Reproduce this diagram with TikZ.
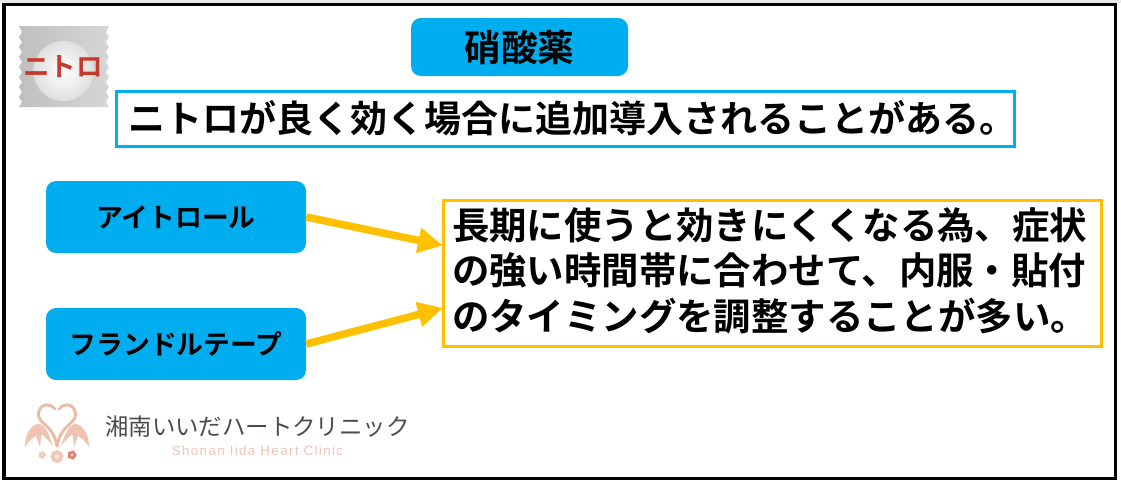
\documentclass[tikz,border=0pt]{standalone}
\usepackage{fontspec}
\usetikzlibrary{arrows.meta,calc}
\setmainfont{Noto Sans CJK JP}[BoldFont={Noto Sans CJK JP Bold}]
\newfontfamily\latinlogo{Liberation Sans}[LetterSpace=10]
\definecolor{cyanb}{HTML}{00AEEF}
\definecolor{amber}{HTML}{FFC000}
\definecolor{logored}{HTML}{C8392B}
\definecolor{swan}{HTML}{EDB9A6}
\tikzset{
 x=1pt,y=-1pt,
 pill/.style={fill=cyanb,rounded corners=10pt,inner sep=0pt,text=black,anchor=center},
 pillb/.style={pill,minimum width=260pt,minimum height=72pt,font=\bfseries\fontsize{26.8}{30}\selectfont},
 arrowy/.style={draw=amber,line width=7.5pt,-{Triangle[length=25pt,width=24pt]},shorten >=0pt},
 swanneck/.style={draw=swan,line width=2.8pt,fill=none,line cap=round},
 swanwing/.style={fill=swan!85},
 bodytext/.style={inner sep=0pt,align=left,font=\bfseries\fontsize{37.4}{45.5}\selectfont},
}
\begin{document}
\begin{tikzpicture}
\useasboundingbox (0,0) rectangle (1121,483);
\fill[white] (0,0) rectangle (1121,483);
\fill[gray!18] (0,0) rectangle (1121,3);
\draw[line width=3.5pt] (4,4.5) rectangle (1115.5,478.5);
% title
\node[pill,minimum width=217pt,minimum height=58pt,font=\bfseries\fontsize{36.7}{40}\selectfont] (title) at (519.5,47) {硝酸薬};
\draw[draw=cyanb,line width=3pt] (116,91.5) rectangle (1014,146.5);
\node[bodytext,font=\bfseries\fontsize{37}{40}\selectfont] (sub) at (572,118.5) {ニトロが良く効く場合に追加導入されることがある。};
% boxes
\node[pillb] (a) at (176,217) {アイトロール};
\node[pillb] (b) at (176,344) {フランドルテープ};
\draw[draw=amber,line width=3pt] (443.5,200) rectangle (1101.5,346);
\node[bodytext] (note) at (770,270.5) {長期に使うと効きにくくなる為、症状\\の強い時間帯に合わせて、内服・貼付\\のタイミングを調整することが多い。};
\coordinate (ea) at (443,245.5);
\coordinate (eb) at (443,308);
\draw[arrowy] (a.east) -- (ea);
\draw[arrowy] (b.east) -- (eb);
% nitro packet
\shade[left color=gray!50,right color=gray!32] (19,26) -- (109,26) -- (106,32) -- (109,37) -- (106,42) -- (109,47) -- (106,52) -- (109,57) -- (106,62) -- (109,67) -- (106,72) -- (109,77) -- (106,82) -- (109,87) -- (106,92) -- (109,97) -- (106,102) -- (109,107) -- (19,107) -- (22,102) -- (19,97) -- (22,92) -- (19,87) -- (22,82) -- (19,77) -- (22,72) -- (19,67) -- (22,62) -- (19,57) -- (22,52) -- (19,47) -- (22,42) -- (19,37) -- (22,32) -- cycle;
\shade[inner color=white,outer color=gray!25] (63.5,71) circle (30);
\node[inner sep=0pt,text=logored,font=\bfseries\fontsize{26.5}{30}\selectfont] (nitro) at (63,67) {ニトロ};
% logo swans
\draw[swanneck] (55,409) .. controls (50,403) and (42,403) .. (39,411) .. controls (36,420) and (46,424) .. (51,431) .. controls (55,437) and (56,441) .. (57,446);
\draw[swanneck] (59,409) .. controls (64,403) and (72,403) .. (75,411) .. controls (78,420) and (68,424) .. (63,431) .. controls (59,437) and (58,441) .. (57,446);
\fill[swanwing] (25,447) .. controls (25,432) and (33,423) .. (40,424) .. controls (46,426) and (50,437) .. (53,446) .. controls (48,440) and (44,436) .. (42,434) .. controls (40,438) and (41,442) .. (40,447) .. controls (38,442) and (37,438) .. (36,436) .. controls (32,438) and (28,442) .. (25,447) -- cycle;
\fill[swanwing] (89,447) .. controls (89,432) and (81,423) .. (74,424) .. controls (68,426) and (64,437) .. (61,446) .. controls (66,440) and (70,436) .. (72,434) .. controls (74,438) and (73,442) .. (74,447) .. controls (76,442) and (77,438) .. (78,436) .. controls (82,438) and (86,442) .. (89,447) -- cycle;
\foreach \a in {0,72,...,288} {\fill[swan!80] (42,455) ++(\a:2.2) circle (1.9);}
\foreach \a in {0,45,...,315} {\fill[swan!80] (57,456.5) ++(\a:4) circle (2.6);}
\fill[swan!30!white] (57,456.5) circle (2);
\foreach \a in {0,72,...,288} {\fill[swan!60!logored] (72,455) ++(\a:2.6) circle (2.2);}
\fill[swan!30!white] (72,455) circle (1.3);
\node[inner sep=0pt,text=black!70,anchor=west,font=\fontsize{23.4}{28}\selectfont] (clinic) at (105,427) {湘南いいだハートクリニック};
\node[inner sep=0pt,text=swan!85,anchor=center,font=\latinlogo\fontsize{13.4}{15}\selectfont] (en) at (257.5,451) {Shonan Iida Heart Clinic};
\end{tikzpicture}
\end{document}
